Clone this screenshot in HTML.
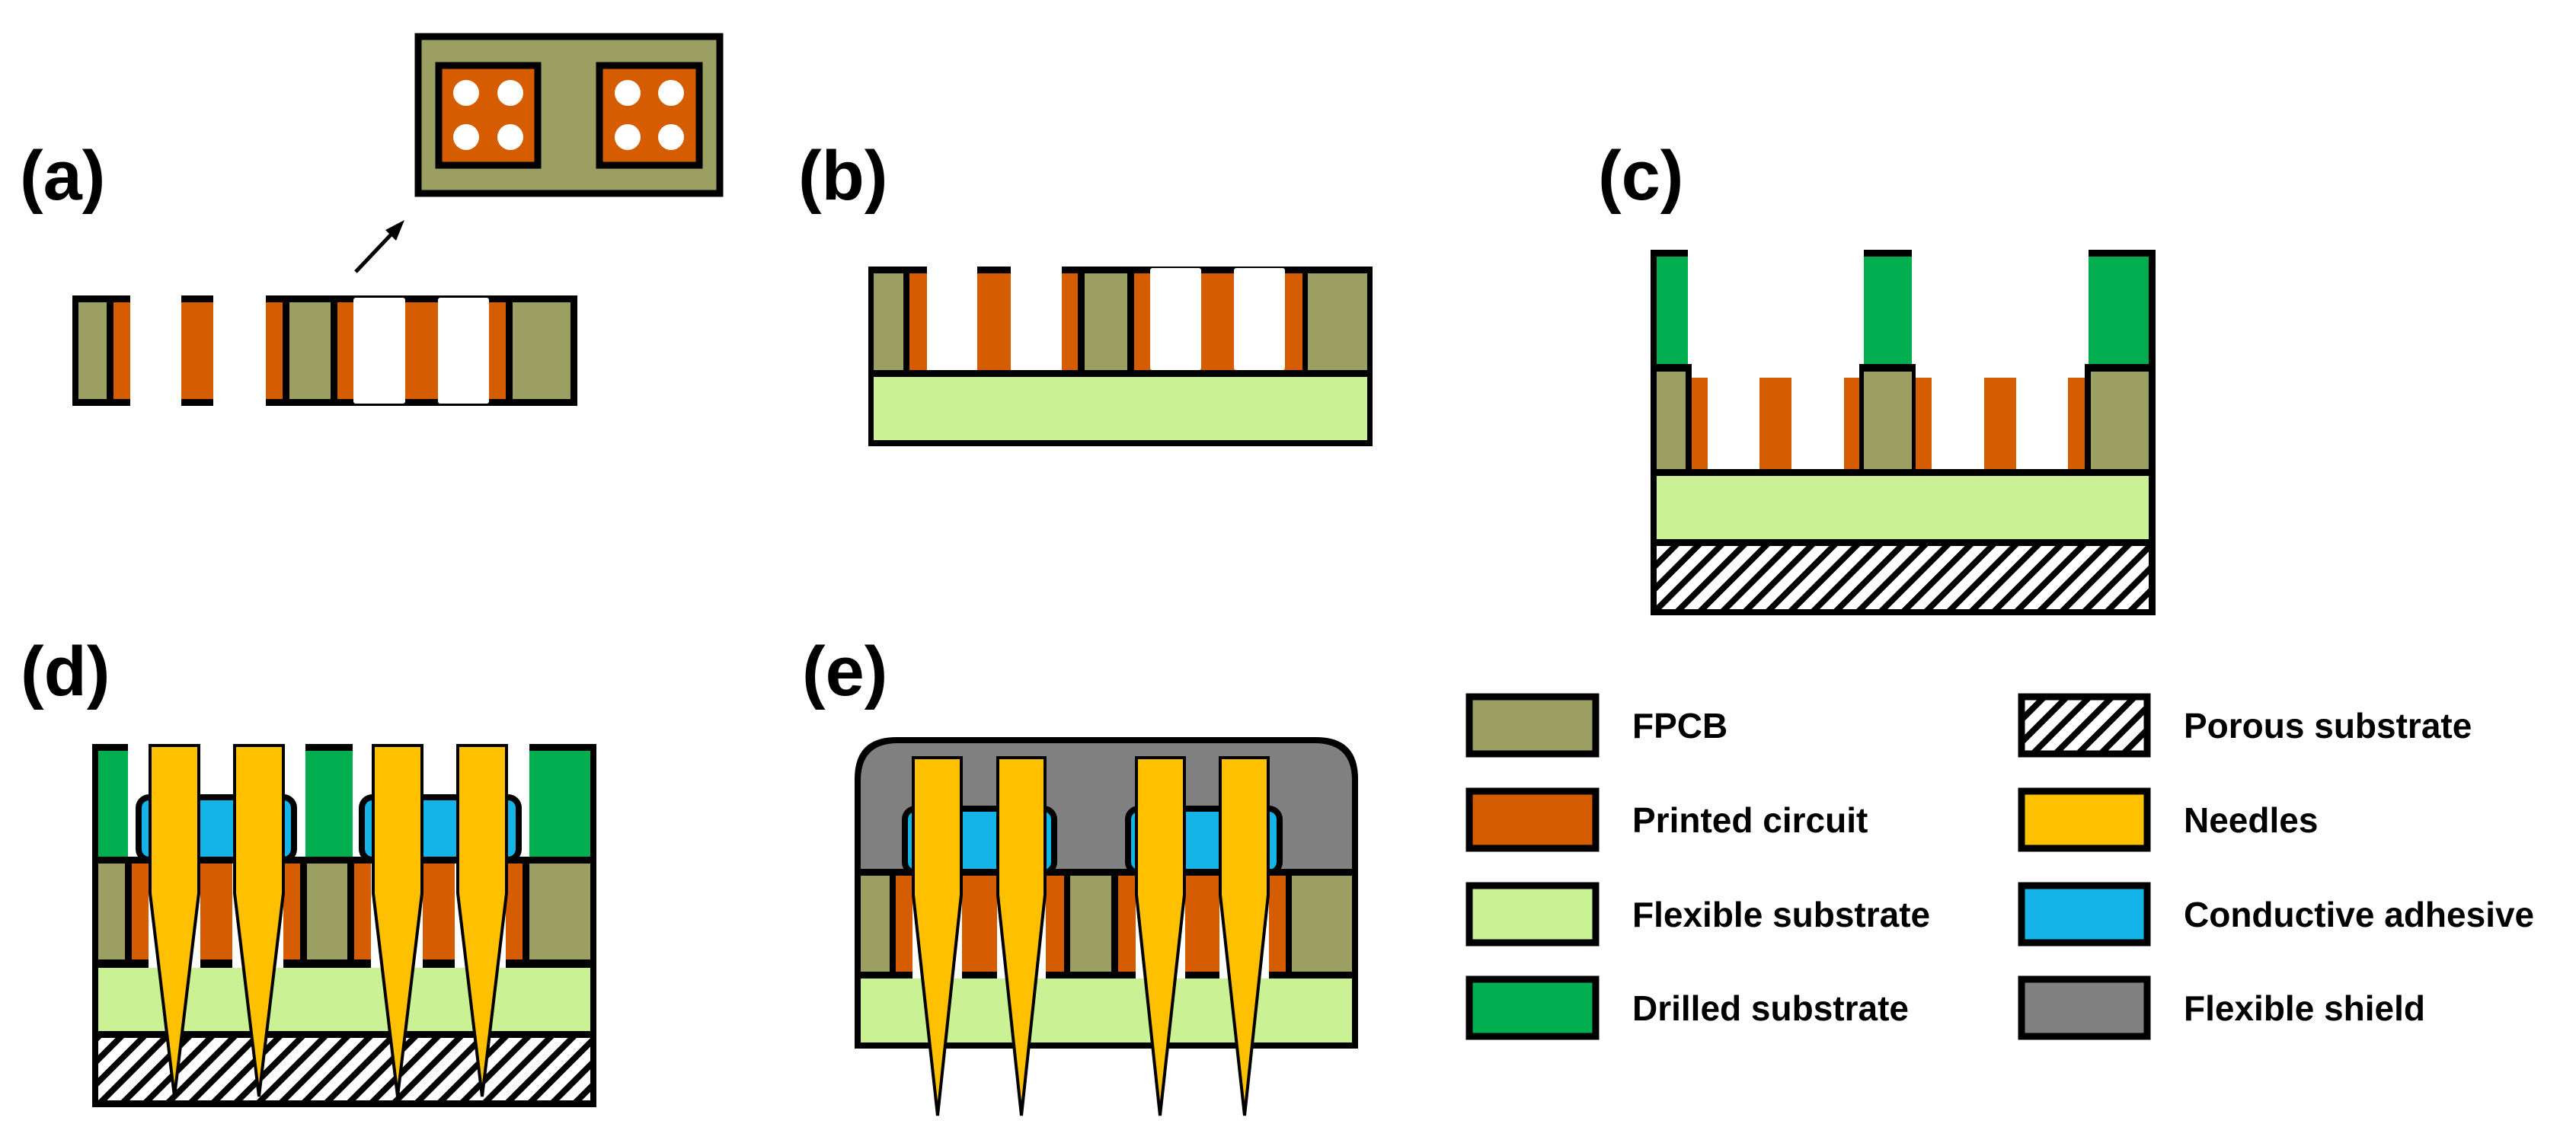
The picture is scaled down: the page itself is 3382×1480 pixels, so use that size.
<!DOCTYPE html>
<html><head><meta charset="utf-8"><style>
html,body{margin:0;padding:0;background:#fff;}
svg{display:block}
text{font-family:"Liberation Sans",Arial,sans-serif;font-weight:bold;fill:#000}
</style></head><body>
<svg width="3382" height="1480" viewBox="0 0 3382 1480" xmlns="http://www.w3.org/2000/svg">
<defs>
<pattern id="h" patternUnits="userSpaceOnUse" width="21" height="21" patternTransform="rotate(45)">
<rect width="21" height="21" fill="#fff"/><rect width="8" height="21" fill="#000"/>
</pattern>
</defs>
<g id="labels" font-size="92">
<text x="26" y="262">(a)</text>
<text x="1048" y="262">(b)</text>
<text x="2098" y="262">(c)</text>
<text x="27" y="913">(d)</text>
<text x="1053" y="913">(e)</text>
</g>

<!-- (a) inset -->
<rect x="549" y="48" width="396" height="206" fill="#9c9f62" stroke="#000" stroke-width="9"/>
<rect x="576" y="86" width="130" height="131" fill="#d65c00" stroke="#000" stroke-width="9"/>
<rect x="787" y="86" width="131" height="131" fill="#d65c00" stroke="#000" stroke-width="9"/>
<g fill="#fff">
<circle cx="612" cy="122" r="17"/><circle cx="670" cy="122" r="17"/>
<circle cx="612" cy="180" r="17"/><circle cx="670" cy="180" r="17"/>
<circle cx="824" cy="122" r="17"/><circle cx="881" cy="122" r="17"/>
<circle cx="824" cy="180" r="17"/><circle cx="881" cy="180" r="17"/>
</g>
<line x1="467" y1="357" x2="520" y2="301" stroke="#000" stroke-width="5"/>
<polygon points="531,289 506,302 520,316" fill="#000"/>

<!-- (a) strip -->
<rect x="95" y="388" width="76" height="145" fill="#000"/>
<rect x="103" y="397" width="37" height="127" fill="#9c9f62"/>
<rect x="149" y="397" width="22" height="127" fill="#d65c00"/>
<rect x="238" y="388" width="42" height="145" fill="#000"/>
<rect x="238" y="397" width="42" height="127" fill="#d65c00"/>
<rect x="349" y="388" width="409" height="145" fill="#000"/>
<rect x="349" y="397" width="22" height="127" fill="#d65c00"/>
<rect x="380" y="397" width="54" height="127" fill="#9c9f62"/>
<rect x="443" y="397" width="221" height="127" fill="#d65c00"/>
<rect x="464" y="391" width="68" height="139" rx="3" fill="#fff"/>
<rect x="575" y="391" width="67" height="139" rx="3" fill="#fff"/>
<rect x="673" y="397" width="76" height="127" fill="#9c9f62"/>

<!-- (b) -->
<rect x="1140" y="350" width="662" height="236" fill="#000"/>
<rect x="1147" y="359" width="39" height="127" fill="#9c9f62"/>
<rect x="1194" y="359" width="221" height="127" fill="#d65c00"/>
<rect x="1217" y="350" width="66" height="136" fill="#fff"/>
<rect x="1327" y="350" width="67" height="136" fill="#fff"/>
<rect x="1424" y="359" width="56" height="127" fill="#9c9f62"/>
<rect x="1489" y="359" width="221" height="127" fill="#d65c00"/>
<rect x="1510" y="352" width="67" height="134" rx="3" fill="#fff"/>
<rect x="1620" y="352" width="67" height="134" rx="3" fill="#fff"/>
<rect x="1717" y="359" width="78" height="127" fill="#9c9f62"/>
<rect x="1147" y="495" width="648" height="83" fill="#caf294"/>

<!-- (c) -->
<rect x="2167" y="328" width="663" height="480" fill="#000"/>
<rect x="2216" y="328" width="231" height="150" fill="#fff"/>
<rect x="2510" y="328" width="232" height="150" fill="#fff"/>
<rect x="2221" y="470" width="220" height="26" fill="#fff"/>
<rect x="2515" y="470" width="222" height="26" fill="#fff"/>
<rect x="2175" y="337" width="41" height="141" fill="#00ae4f"/>
<rect x="2447" y="337" width="63" height="141" fill="#00ae4f"/>
<rect x="2742" y="337" width="79" height="141" fill="#00ae4f"/>
<rect x="2175" y="488" width="38" height="128" fill="#9c9f62"/>
<rect x="2221" y="496" width="220" height="120" fill="#d65c00"/>
<rect x="2242" y="496" width="68" height="120" fill="#fff"/>
<rect x="2352" y="496" width="69" height="120" fill="#fff"/>
<rect x="2447" y="488" width="63" height="128" fill="#9c9f62"/>
<rect x="2515" y="496" width="222" height="120" fill="#d65c00"/>
<rect x="2536" y="496" width="69" height="120" fill="#fff"/>
<rect x="2647" y="496" width="68" height="120" fill="#fff"/>
<rect x="2745" y="488" width="76" height="128" fill="#9c9f62"/>
<rect x="2175" y="625" width="646" height="83" fill="#caf294"/>
<rect x="2175" y="717" width="646" height="83" fill="url(#h)"/>

<!-- (d) -->
<rect x="121" y="977" width="662" height="477" fill="#000"/>
<rect x="168" y="977" width="233" height="148" fill="#fff"/>
<rect x="463" y="977" width="232" height="148" fill="#fff"/>
<rect x="129" y="986" width="39" height="139" fill="#00ae4f"/>
<rect x="401" y="986" width="62" height="139" fill="#00ae4f"/>
<rect x="695" y="986" width="80" height="139" fill="#00ae4f"/>
<rect x="182" y="1047" width="204" height="82" rx="14" fill="#14b4e8" stroke="#000" stroke-width="8"/>
<rect x="475" y="1047" width="206" height="82" rx="14" fill="#14b4e8" stroke="#000" stroke-width="8"/>
<rect x="121" y="1125" width="662" height="9" fill="#000"/>
<rect x="129" y="1134" width="35" height="126" fill="#9c9f62"/>
<rect x="173" y="1134" width="221" height="126" fill="#d65c00"/>
<rect x="403" y="1134" width="53" height="126" fill="#9c9f62"/>
<rect x="465" y="1134" width="221" height="126" fill="#d65c00"/>
<rect x="695" y="1134" width="80" height="126" fill="#9c9f62"/>
<g fill="#fff">
<rect x="195" y="1134" width="68" height="137"/><rect x="305" y="1134" width="67" height="137"/>
<rect x="487" y="1134" width="68" height="137"/><rect x="597" y="1134" width="67" height="137"/>
</g>
<rect x="129" y="1271" width="646" height="83" fill="#caf294"/>
<rect x="129" y="1363" width="646" height="82" fill="url(#h)"/>
<g fill="#ffc000" stroke="#000" stroke-width="4" stroke-linejoin="miter">
<path d="M197,979 L261,979 L261,1173 L229,1440 L197,1173 Z"/>
<path d="M308,979 L372,979 L372,1173 L340,1440 L308,1173 Z"/>
<path d="M490,979 L554,979 L554,1173 L522,1440 L490,1173 Z"/>
<path d="M601,979 L665,979 L665,1173 L633,1440 L601,1173 Z"/>
</g>

<!-- (e) -->
<path d="M1122,1377 L1122,1023 Q1122,968 1177,968 L1728,968 Q1783,968 1783,1023 L1783,1377 Z" fill="#000"/>
<path d="M1130,1141 L1130,1025 Q1130,976 1179,976 L1726,976 Q1775,976 1775,1025 L1775,1141 Z" fill="#808080"/>
<rect x="1188" y="1062" width="196" height="84" rx="14" fill="#14b4e8" stroke="#000" stroke-width="8"/>
<rect x="1481" y="1062" width="199" height="84" rx="14" fill="#14b4e8" stroke="#000" stroke-width="8"/>
<rect x="1122" y="1141" width="661" height="9" fill="#000"/>
<rect x="1130" y="1150" width="38" height="126" fill="#9c9f62"/>
<rect x="1176" y="1150" width="221" height="126" fill="#d65c00"/>
<rect x="1405" y="1150" width="54" height="126" fill="#9c9f62"/>
<rect x="1468" y="1150" width="220" height="126" fill="#d65c00"/>
<rect x="1696" y="1150" width="79" height="126" fill="#9c9f62"/>
<g fill="#fff">
<rect x="1198" y="1150" width="65" height="135"/><rect x="1309" y="1150" width="64" height="135"/>
<rect x="1491" y="1150" width="65" height="135"/><rect x="1601" y="1150" width="65" height="135"/>
</g>
<rect x="1130" y="1285" width="645" height="84" fill="#caf294"/>
<g fill="#ffc000" stroke="#000" stroke-width="4">
<path d="M1199,995 L1262,995 L1262,1175 L1231,1465 L1199,1175 Z"/>
<path d="M1310,995 L1372,995 L1372,1175 L1341,1465 L1310,1175 Z"/>
<path d="M1492,995 L1555,995 L1555,1175 L1523,1465 L1492,1175 Z"/>
<path d="M1602,995 L1665,995 L1665,1175 L1634,1465 L1602,1175 Z"/>
</g>

<!-- legend -->
<g stroke="#000" stroke-width="9">
<rect x="1929" y="915" width="166" height="75" fill="#9c9f62"/>
<rect x="1929" y="1039" width="166" height="75" fill="#d65c00"/>
<rect x="1929" y="1163" width="166" height="75" fill="#caf294"/>
<rect x="1929" y="1286" width="166" height="75" fill="#00ae4f"/>
<rect x="2654" y="915" width="165" height="75" fill="url(#h)"/>
<rect x="2654" y="1039" width="165" height="75" fill="#ffc000"/>
<rect x="2654" y="1163" width="165" height="75" fill="#14b4e8"/>
<rect x="2654" y="1286" width="165" height="75" fill="#808080"/>
</g>
<g font-size="46">
<text x="2143" y="969">FPCB</text>
<text x="2143" y="1093">Printed circuit</text>
<text x="2143" y="1217">Flexible substrate</text>
<text x="2143" y="1340">Drilled substrate</text>
<text x="2867" y="969">Porous substrate</text>
<text x="2867" y="1093">Needles</text>
<text x="2867" y="1217">Conductive adhesive</text>
<text x="2867" y="1340">Flexible shield</text>
</g>
</svg>
</body></html>
